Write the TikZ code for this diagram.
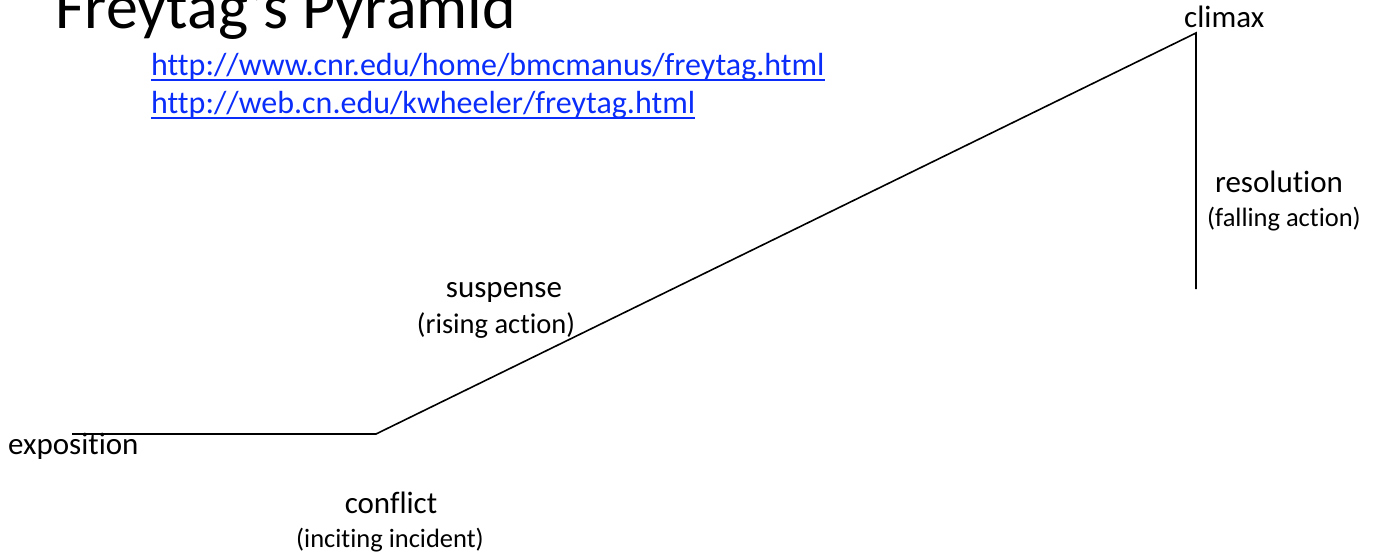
\documentclass[tikz,border=0pt]{standalone}
\usepackage{fontspec}
\setmainfont[Ligatures=NoCommon]{Carlito}
\definecolor{linkcol}{RGB}{10,45,250}
\begin{document}
\begin{tikzpicture}[x=1pt,y=-1pt,
  lbl/.style={inner sep=0pt,anchor=base,font=\fontsize{31}{36}\selectfont},
  sub/.style={inner sep=0pt,anchor=base,font=\fontsize{26.5}{30}\selectfont},
  link/.style={inner sep=0pt,anchor=base west,text=linkcol,font=\fontsize{32}{38}\selectfont},
  plot/.style={line width=1.6pt,black}]
\useasboundingbox (0,0) rectangle (1375,556);
\node[inner sep=0pt,anchor=base west,font=\fontsize{64}{72}\selectfont] (title) at (55,29) {Freytag’s Pyramid};
\node[link] (u1) at (151,76) {http://www.cnr.edu/home/bmcmanus/freytag.html};
\node[link] (u2) at (151,114) {http://web.cn.edu/kwheeler/freytag.html};
\draw[linkcol,line width=1.8pt] ([yshift=-4pt]u1.base west) -- ([yshift=-4pt]u1.base east);
\draw[linkcol,line width=1.8pt] ([yshift=-4pt]u2.base west) -- ([yshift=-4pt]u2.base east);
\coordinate (start) at (72,434);
\coordinate (incite) at (376,434);
\coordinate (peak) at (1196,33);
\coordinate (fallend) at (1196,289);
\draw[plot] (start) -- (incite) -- (peak) -- (fallend);
\node[inner sep=0pt,anchor=base west,font=\fontsize{31}{36}\selectfont] (climax) at (1184,28) {climax};
\node[lbl] (res) at (1279,193) {resolution};
\node[sub] (fall) at (1284,226) {(falling action)};
\node[lbl] (susp) at (504,297) {suspense};
\node[sub,font=\fontsize{28.5}{32}\selectfont] (rise) at (496,333) {(rising action)};
\node[lbl,anchor=base west] (expo) at (8,454) {exposition};
\node[lbl] (conf) at (391,513) {conflict};
\node[sub] (inc) at (390,547) {(inciting incident)};
\end{tikzpicture}
\end{document}
